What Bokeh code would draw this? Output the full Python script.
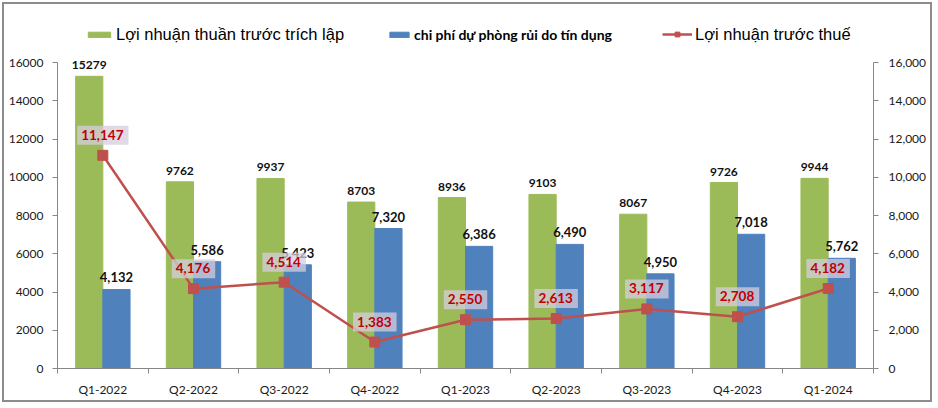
from bokeh.plotting import figure
from bokeh.models import (ColumnDataSource, LinearAxis, FixedTicker, NumeralTickFormatter,
                          Range1d, Legend, LegendItem)
from bokeh.transform import dodge
from bokeh.core.properties import value
from bokeh.embed import file_html
from bokeh.resources import INLINE

quarters = ["Q1-2022", "Q2-2022", "Q3-2022", "Q4-2022", "Q1-2023",
            "Q2-2023", "Q3-2023", "Q4-2023", "Q1-2024"]
loi_nhuan_thuan = [15279, 9762, 9937, 8703, 8936, 9103, 8067, 9726, 9944]
chi_phi_du_phong = [4132, 5586, 5423, 7320, 6386, 6490, 4950, 7018, 5762]
loi_nhuan_truoc_thue = [11147, 4176, 4514, 1383, 2550, 2613, 3117, 2708, 4182]
y_ticks = [0, 2000, 4000, 6000, 8000, 10000, 12000, 14000, 16000]

series_names = ["Lợi nhuận thuần trước trích lập",
                "chi phí dự phòng rủi do tín dụng",
                "Lợi nhuận trước thuế"]

GREEN = "#9BBB59"
BLUE = "#4F81BD"
RED = "#C0504D"
AXIS = "#878787"

# axis max is 16000; extra head-room above it holds the legend
Y_MAX = 16000
Y_TOP = 18720

xs = list(range(len(quarters)))
src = ColumnDataSource(dict(
    x=xs,
    green=loi_nhuan_thuan,
    blue=chi_phi_du_phong,
    red=loi_nhuan_truoc_thue,
    green_lbl=[str(v) for v in loi_nhuan_thuan],
    blue_lbl=[f"{v:,}" for v in chi_phi_du_phong],
    red_lbl=[f"{v:,}" for v in loi_nhuan_truoc_thue],
))

p = figure(width=930, height=400, output_backend="svg", toolbar_location=None,
           x_range=Range1d(-0.5, len(quarters) - 0.5), y_range=Range1d(0, Y_TOP),
           min_border_left=53, min_border_right=61, min_border_top=6, min_border_bottom=36)
p.outline_line_color = None
p.grid.visible = False
p.background_fill_color = "white"
p.styles = {"border": "2px solid #8c8c8c", "margin": "2px"}

# bars
g = p.vbar(x=dodge("x", -0.15), top="green", width=0.3, source=src,
           fill_color=GREEN, line_color=GREEN)
b = p.vbar(x=dodge("x", 0.15), top="blue", width=0.3, source=src,
           fill_color=BLUE, line_color=BLUE)

# secondary axis range for line
p.extra_y_ranges = {"right": Range1d(0, Y_TOP)}
ln = p.line(x="x", y="red", source=src, line_color=RED, line_width=2.5, y_range_name="right")
mk = p.scatter(x="x", y="red", source=src, marker="square", size=10,
               fill_color=RED, line_color=RED, y_range_name="right")

# bar labels
p.text(x=dodge("x", -0.15), y="green", text="green_lbl", source=src,
       text_font=value("Lato"), text_font_style="bold", text_font_size="12px",
       text_color="#111111", text_align="center", text_baseline="bottom", y_offset=-7)
p.text(x=dodge("x", 0.15), y="blue", text="blue_lbl", source=src,
       text_font=value("Lato"), text_font_style="bold", text_font_size="13px",
       text_color="#111111", text_align="center", text_baseline="bottom", y_offset=-7)
# line labels
p.text(x="x", y="red", text="red_lbl", source=src, y_range_name="right",
       text_font=value("Lato"), text_font_style="bold", text_font_size="13.5px",
       text_color="#C00000", text_align="center", text_baseline="middle", y_offset=-20,
       background_fill_color="#d4cedc", background_fill_alpha=0.75, padding=[4, 5, 4, 5])

# axes
xa = p.xaxis[0]
xa.ticker = FixedTicker(ticks=xs, minor_ticks=[i - 0.5 for i in range(len(quarters) + 1)])
xa.major_label_overrides = {i: q for i, q in enumerate(quarters)}
xa.major_tick_out = 0
xa.major_tick_in = 0
xa.minor_tick_out = 5
xa.minor_tick_in = 0
xa.minor_tick_line_color = AXIS
xa.axis_line_color = AXIS
xa.major_label_standoff = 8
xa.major_label_text_font = "Lato"
xa.major_label_text_font_size = "12px"
xa.major_label_text_color = "#1a1a1a"

ya = p.yaxis[0]
ya.ticker = FixedTicker(ticks=y_ticks, minor_ticks=[])
ya.formatter = NumeralTickFormatter(format="0")
ya.bounds = (0, Y_MAX)
ya.axis_line_color = AXIS
ya.major_tick_line_color = AXIS
ya.major_tick_out = 5
ya.major_tick_in = 0
ya.minor_tick_line_color = None
ya.major_label_standoff = 9
ya.major_label_text_font = "Lato"
ya.major_label_text_font_size = "12px"
ya.major_label_text_color = "#1a1a1a"

ra = LinearAxis(y_range_name="right", ticker=FixedTicker(ticks=y_ticks, minor_ticks=[]),
                formatter=NumeralTickFormatter(format="0,0"), bounds=(0, Y_MAX))
ra.axis_line_color = AXIS
ra.major_tick_line_color = AXIS
ra.major_tick_out = 5
ra.major_tick_in = 0
ra.minor_tick_line_color = None
ra.major_label_standoff = 10
ra.major_label_text_font = "Lato"
ra.major_label_text_font_size = "12px"
ra.major_label_text_color = "#1a1a1a"
p.add_layout(ra, "right")

# legends
def make_legend(item, loc, gw, gh, font, size, style):
    lg = Legend(items=[item], location=loc, orientation="horizontal",
                padding=0, margin=0, spacing=0, border_line_color=None,
                background_fill_alpha=0, glyph_width=gw, glyph_height=gh,
                label_standoff=3, label_height=20,
                label_text_font=font, label_text_font_size=size,
                label_text_font_style=style, label_text_color="#000000")
    p.add_layout(lg, "center")

make_legend(LegendItem(label=series_names[0], renderers=[g]), (28, 324), 28, 7,
            "Liberation Sans", "16.5px", "normal")
make_legend(LegendItem(label=series_names[1], renderers=[b]), (330, 324), 24, 7,
            "Lato", "14px", "bold")
make_legend(LegendItem(label=series_names[2], renderers=[ln, mk]), (605, 324), 30, 12,
            "Liberation Sans", "16.5px", "normal")

open("out.html", "w").write(file_html(p, INLINE))
